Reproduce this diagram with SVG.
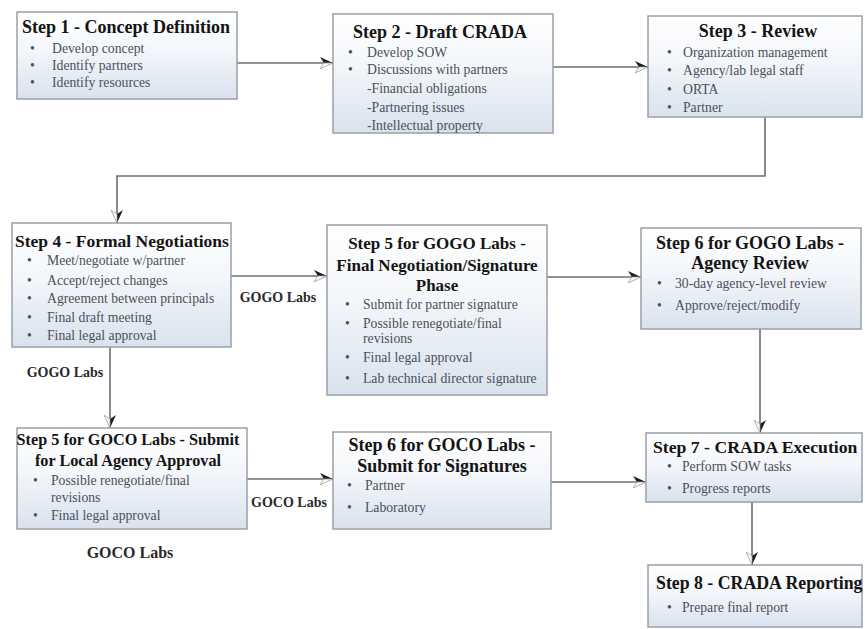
<svg xmlns="http://www.w3.org/2000/svg" width="865" height="629" viewBox="0 0 865 629">
<defs>
<linearGradient id="boxfill" x1="0" y1="0" x2="0" y2="1">
<stop offset="0" stop-color="#ffffff"/>
<stop offset="0.45" stop-color="#f3f6fa"/>
<stop offset="1" stop-color="#d9e2ee"/>
</linearGradient>
<marker id="arr" viewBox="0 0 14 12" refX="13" refY="6" markerWidth="14" markerHeight="12" markerUnits="userSpaceOnUse" orient="auto">
<path d="M0,0 L13,6 L4,6 Z" fill="#1e1e1e"/>
<path d="M4,6 L13,6 L0,12 Z" fill="#ffffff" stroke="#9a9a9a" stroke-width="0.8"/>
</marker>
</defs>
<style>
.box{fill:url(#boxfill);stroke:#9aa0a8;stroke-width:1.5}
.t{font-family:"Liberation Serif",serif;font-weight:bold;font-size:18px;fill:#141414}
.tc{font-family:"Liberation Serif",serif;font-weight:bold;font-size:18px;fill:#141414;text-anchor:middle}
.b{font-family:"Liberation Serif",serif;font-size:13.7px;fill:#4a505c}
.lbl{font-family:"Liberation Serif",serif;font-weight:bold;font-size:14px;fill:#2a2a2a;text-anchor:middle}
.conn{fill:none;stroke:#6e6e6e;stroke-width:1.6}
</style>
<rect width="865" height="629" fill="#ffffff"/>
<g id="connectors">
<path class="conn" d="M237,63 H333" marker-end="url(#arr)"/>
<path class="conn" d="M553,67 H648" marker-end="url(#arr)"/>
<path class="conn" d="M765,117 V176 H117 V223" marker-end="url(#arr)"/>
<path class="conn" d="M231,276 H327" marker-end="url(#arr)"/>
<path class="conn" d="M547,277 H641" marker-end="url(#arr)"/>
<path class="conn" d="M760,329 V433" marker-end="url(#arr)"/>
<path class="conn" d="M110,347 V428" marker-end="url(#arr)"/>
<path class="conn" d="M247,479 H333" marker-end="url(#arr)"/>
<path class="conn" d="M551,482 H646" marker-end="url(#arr)"/>
<path class="conn" d="M752,502 V565" marker-end="url(#arr)"/>
<text class="lbl" x="278" y="302">GOGO Labs</text>
<text class="lbl" x="65" y="377">GOGO Labs</text>
<text class="lbl" x="289" y="507">GOCO Labs</text>
<text class="lbl" x="130" y="558" style="font-size:16px">GOCO Labs</text>
</g>
<g id="step1">
<rect class="box" x="17" y="12" width="220" height="87"/>
<text class="t" x="22" y="33">Step 1 - Concept Definition</text>
<text class="b" x="30" y="53">•</text><text class="b" x="52" y="53">Develop concept</text>
<text class="b" x="30" y="70">•</text><text class="b" x="52" y="70">Identify partners</text>
<text class="b" x="30" y="87">•</text><text class="b" x="52" y="87">Identify resources</text>
</g>
<g id="step2">
<rect class="box" x="333" y="14" width="220" height="119"/>
<text class="tc" x="440" y="38">Step 2 - Draft CRADA</text>
<text class="b" x="348" y="57">•</text><text class="b" x="367" y="57">Develop SOW</text>
<text class="b" x="348" y="74">•</text><text class="b" x="367" y="74">Discussions with partners</text>
<text class="b" x="367" y="93">-Financial obligations</text>
<text class="b" x="367" y="112">-Partnering issues</text>
<text class="b" x="367" y="130">-Intellectual property</text>
</g>
<g id="step3">
<rect class="box" x="648" y="16" width="214" height="101"/>
<text class="tc" x="758" y="37">Step 3 - Review</text>
<text class="b" x="667" y="57">•</text><text class="b" x="683" y="57">Organization management</text>
<text class="b" x="667" y="75">•</text><text class="b" x="683" y="75">Agency/lab legal staff</text>
<text class="b" x="667" y="94">•</text><text class="b" x="683" y="94">ORTA</text>
<text class="b" x="667" y="112">•</text><text class="b" x="683" y="112">Partner</text>
</g>
<g id="step4">
<rect class="box" x="12" y="223" width="219" height="124"/>
<text class="t" x="15" y="247" style="font-size:17.5px">Step 4 - Formal Negotiations</text>
<text class="b" x="27" y="265">•</text><text class="b" x="47" y="265">Meet/negotiate w/partner</text>
<text class="b" x="27" y="285">•</text><text class="b" x="47" y="285">Accept/reject changes</text>
<text class="b" x="27" y="303">•</text><text class="b" x="47" y="303">Agreement between principals</text>
<text class="b" x="27" y="322">•</text><text class="b" x="47" y="322">Final draft meeting</text>
<text class="b" x="27" y="340">•</text><text class="b" x="47" y="340">Final legal approval</text>
</g>
<g id="step5gogo">
<rect class="box" x="327" y="225" width="220" height="170"/>
<text class="tc" x="437" y="249" style="font-size:17px">Step 5 for GOGO Labs -</text>
<text class="tc" x="437" y="271" style="font-size:17px">Final Negotiation/Signature</text>
<text class="tc" x="437" y="291" style="font-size:17px">Phase</text>
<text class="b" x="345" y="309">•</text><text class="b" x="363" y="309">Submit for partner signature</text>
<text class="b" x="345" y="328">•</text><text class="b" x="363" y="328">Possible renegotiate/final</text>
<text class="b" x="363" y="343">revisions</text>
<text class="b" x="345" y="362">•</text><text class="b" x="363" y="362">Final legal approval</text>
<text class="b" x="345" y="383">•</text><text class="b" x="363" y="383">Lab technical director signature</text>
</g>
<g id="step6gogo">
<rect class="box" x="641" y="228" width="220" height="101"/>
<text class="tc" x="750" y="249">Step 6 for GOGO Labs -</text>
<text class="tc" x="750" y="269">Agency Review</text>
<text class="b" x="657" y="288">•</text><text class="b" x="675" y="288">30-day agency-level review</text>
<text class="b" x="657" y="310">•</text><text class="b" x="675" y="310">Approve/reject/modify</text>
</g>
<g id="step5goco">
<rect class="box" x="17" y="428" width="230" height="101"/>
<text class="tc" x="128" y="445" style="font-size:16.2px">Step 5 for GOCO Labs - Submit</text>
<text class="tc" x="128" y="466" style="font-size:16.2px">for Local Agency Approval</text>
<text class="b" x="33" y="485">•</text><text class="b" x="51" y="485">Possible renegotiate/final</text>
<text class="b" x="51" y="502">revisions</text>
<text class="b" x="33" y="520">•</text><text class="b" x="51" y="520">Final legal approval</text>
</g>
<g id="step6goco">
<rect class="box" x="333" y="432" width="218" height="97"/>
<text class="tc" x="442" y="451">Step 6 for GOCO Labs -</text>
<text class="tc" x="442" y="472">Submit for Signatures</text>
<text class="b" x="347" y="490">•</text><text class="b" x="365" y="490">Partner</text>
<text class="b" x="347" y="512">•</text><text class="b" x="365" y="512">Laboratory</text>
</g>
<g id="step7">
<rect class="box" x="646" y="433" width="216" height="69"/>
<text class="t" x="653" y="453" style="font-size:17.7px">Step 7 - CRADA Execution</text>
<text class="b" x="667" y="471">•</text><text class="b" x="682" y="471">Perform SOW tasks</text>
<text class="b" x="667" y="493">•</text><text class="b" x="682" y="493">Progress reports</text>
</g>
<g id="step8">
<rect class="box" x="648" y="565" width="214" height="62"/>
<text class="t" x="656" y="589" style="font-size:17.8px">Step 8 - CRADA Reporting</text>
<text class="b" x="667" y="612">•</text><text class="b" x="682" y="612">Prepare final report</text>
</g>
</svg>
